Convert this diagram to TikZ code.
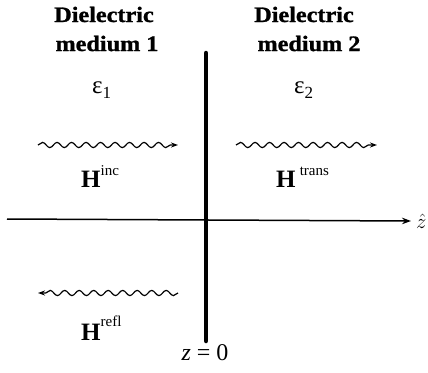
\documentclass[tikz,border=0pt]{standalone}
\usepackage{fontspec}
\setmainfont{Liberation Serif}
\newfontfamily\hdrfont[FakeStretch=1.1,FakeBold=1.2]{Liberation Serif}
\usetikzlibrary{decorations.pathmorphing,arrows.meta}
\begin{document}
\begin{tikzpicture}[x=1pt,y=-1pt,
  hdr/.style={font=\hdrfont\bfseries\fontsize{22}{26}\selectfont, inner sep=0pt, anchor=base},
  lbl/.style={inner sep=0pt, anchor=base west},
  eps/.style={lbl, font=\fontsize{25}{25}\selectfont},
  hlab/.style={lbl, font=\fontsize{25}{25}\selectfont},
  wave/.style={line width=1.2pt, decorate,
    decoration={snake, amplitude=2.6pt, segment length=14.5pt, post length=7pt},
    -{Stealth[length=7pt,width=5pt]}}]
\useasboundingbox (0,0) rectangle (428,372);
% headers
\node[hdr] (h1a) at (104,22) {Dielectric};
\node[hdr] (h1b) at (107,51) {medium 1};
\node[hdr] (h2a) at (304,22) {Dielectric};
\node[hdr] (h2b) at (309,51) {medium 2};
% permittivities
\node[eps] (e1) at (92,93) {ε\raisebox{-5pt}{\fontsize{17}{17}\selectfont 1}};
\node[eps] (e2) at (294,93) {ε\raisebox{-5pt}{\fontsize{17}{17}\selectfont 2}};
% interface
\coordinate (wt) at (206,53);
\coordinate (wb) at (206,341);
\draw[line width=4.5pt, line cap=round] (wt) -- (wb);
% axis
\coordinate (ax0) at (7,219);
\node[anchor=west, inner xsep=5pt, inner ysep=0pt, font=\fontsize{20}{20}\selectfont] (zh) at (411,221) {$\hat{z}$};
\draw[line width=1.5pt, -{Stealth[length=9pt,width=6.5pt]}] (ax0) -- (zh.west);
% waves
\coordinate (i0) at (38,145);
\coordinate (i1) at (178,145);
\draw[wave] (i0) -- (i1);
\coordinate (t0) at (236,145);
\coordinate (t1) at (377,145);
\draw[wave] (t0) -- (t1);
\coordinate (r0) at (178,293);
\coordinate (r1) at (38,293);
\draw[wave] (r0) -- (r1);
% field labels
\node[hlab] (hinc) at (81,187) {\textbf{H}\raisebox{12pt}{\fontsize{15}{15}\selectfont inc}};
\node[hlab] (htr) at (276,187) {\textbf{H}\,\raisebox{12pt}{\fontsize{15}{15}\selectfont trans}};
\node[hlab] (hrf) at (81,340) {\textbf{H}\raisebox{14pt}{\fontsize{15}{15}\selectfont refl}};
% z = 0
\node[inner sep=0pt, anchor=base, font=\fontsize{24}{24}\selectfont] (z0) at (205,360) {\textit{z} = 0};
\end{tikzpicture}
\end{document}
